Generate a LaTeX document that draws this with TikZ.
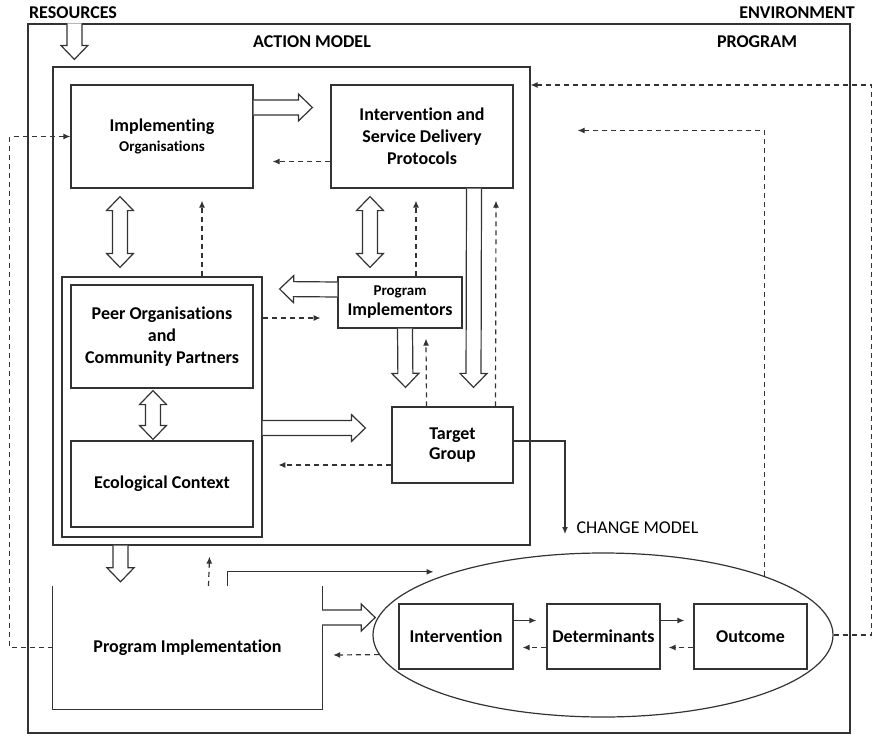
\documentclass[tikz,border=0pt]{standalone}
\usepackage{fontspec}
\setmainfont{Carlito}[Ligatures=NoCommon]
\usetikzlibrary{positioning,arrows.meta,calc,shapes.geometric}
\definecolor{linecol}{HTML}{333333}
\tikzset{
  box/.style 2 args={draw=linecol, line width=1.2pt, minimum width=#1, minimum height=#2,
    inner sep=1pt, align=center},
  harrow/.style={draw=linecol, line width=1.2pt, fill=white, line join=miter,
    to path={($(\tikztostart)!7.5pt!90:(\tikztotarget)$)
      -- ($(\tikztotarget)!14pt!(\tikztostart)!7.5pt!90:(\tikztotarget)$)
      -- ($(\tikztotarget)!14pt!(\tikztostart)!13.5pt!90:(\tikztotarget)$)
      -- (\tikztotarget)
      -- ($(\tikztotarget)!14pt!(\tikztostart)!13.5pt!-90:(\tikztotarget)$)
      -- ($(\tikztotarget)!14pt!(\tikztostart)!7.5pt!-90:(\tikztotarget)$)
      -- ($(\tikztostart)!7.5pt!-90:(\tikztotarget)$)}},
  dharrow/.style={draw=linecol, line width=1.2pt, fill=white, line join=miter,
    to path={(\tikztostart)
      -- ($(\tikztostart)!14pt!(\tikztotarget)!13.5pt!90:(\tikztotarget)$)
      -- ($(\tikztostart)!14pt!(\tikztotarget)!7.5pt!90:(\tikztotarget)$)
      -- ($(\tikztotarget)!14pt!(\tikztostart)!7.5pt!90:(\tikztotarget)$)
      -- ($(\tikztotarget)!14pt!(\tikztostart)!13.5pt!90:(\tikztotarget)$)
      -- (\tikztotarget)
      -- ($(\tikztotarget)!14pt!(\tikztostart)!13.5pt!-90:(\tikztotarget)$)
      -- ($(\tikztotarget)!14pt!(\tikztostart)!7.5pt!-90:(\tikztotarget)$)
      -- ($(\tikztostart)!14pt!(\tikztotarget)!7.5pt!-90:(\tikztotarget)$)
      -- ($(\tikztostart)!14pt!(\tikztotarget)!13.5pt!-90:(\tikztotarget)$)
      -- cycle}}}

\begin{document}
\begin{tikzpicture}[x=1pt, y=-1pt, font=\fontsize{18}{22}\selectfont\bfseries,
    flow/.style={-{Latex[length=7pt, width=6pt]}, line width=1.2pt, draw=linecol},
    feedback/.style={-{Latex[length=7pt, width=6pt]}, line width=1.2pt, draw=linecol,
      dash pattern=on 5pt off 4pt}]
  \useasboundingbox (0,0) rectangle (873,736);
  \node[box={822pt}{709pt}] (env) at (439,378.5) {};
  \node[box={477pt}{478pt}] (action) at (291.5,306) {};
  \node (res) at (73,13) {RESOURCES};
  \node (envlbl) at (797,13) {ENVIRONMENT};
  \node (amlbl) at (312,42) {ACTION MODEL};
  \node (prglbl) at (757,42) {PROGRAM};
  \node[box={182pt}{103pt}] (impl) at (162,136.5) {Implementing\\[-2pt] {\fontsize{15}{18}\selectfont Organisations}};
  \node[box={182pt}{103pt}] (intv) at (422,136.5) {Intervention and\\ Service Delivery\\ Protocols};
  \node[box={200pt}{260pt}] (pcbox) at (162,407) {};
  \node[box={182pt}{103pt}] (peer) at (162,336.5) {Peer Organisations\\ and\\ Community Partners};
  \node[box={182pt}{86pt}] (eco) at (162,484) {Ecological Context};
  \node[box={124pt}{51pt}] (progimp) at (400,302.5) {{\fontsize{15}{18}\selectfont Program}\\[-2pt] Implementors};
  \node[box={121pt}{76pt}] (target) at (452.5,445) {Target\\[-2pt] Group};
  \node[anchor=west, font=\fontsize{18}{22}\selectfont] (chg) at (573,528) {CHANGE MODEL};
  \node[minimum width=269pt, minimum height=123pt, inner sep=0pt] (pimpl) at (187.5,647.5) {Program Implementation};
  \draw[linecol, line width=1.2pt] (pimpl.north west) |- (pimpl.south east) -- (pimpl.north east);
  \node[draw=linecol, ellipse, line width=1.2pt, minimum width=460pt, minimum height=164pt,
    inner sep=0pt] (cm) at (603,635) {};
  \node[box={114pt}{65pt}] (cint) at (456,636.5) {Intervention};
  \node[box={113pt}{65pt}] (cdet) at (603.5,636.5) {Determinants};
  \node[box={113pt}{65pt}] (cout) at (750.5,636.5) {Outcome};
  \draw[harrow] ([xshift=47pt]env.north west) to ([xshift=22pt,yshift=7pt]action.north west);
  \draw[harrow] ([yshift=29pt]impl.east) to ([xshift=-18pt,yshift=29pt]intv.west);
  \draw[dharrow] ([xshift=-42pt,yshift=-8pt]impl.south) to ([xshift=-42pt,yshift=9pt]pcbox.north);
  \draw[dharrow] ([xshift=-52pt,yshift=-8pt]intv.south) to ([xshift=-30pt,yshift=9pt]progimp.north);
  \draw[dharrow] ([xshift=-9pt,yshift=-2pt]peer.south) to ([xshift=-9pt,yshift=1pt]eco.north);
  \draw[harrow] ([yshift=13pt]progimp.west) to ([xshift=17pt,yshift=118pt]pcbox.east);
  \draw[harrow] ([xshift=5pt]progimp.south) to ([xshift=-47pt,yshift=19pt]target.north);
  \draw[harrow] ([xshift=52pt]intv.south) to ([xshift=21pt,yshift=19pt]target.north);
  \draw[harrow] ([yshift=-21pt]pcbox.east) to ([xshift=-26pt,yshift=17pt]target.west);
  \draw[harrow] ([xshift=-171pt]action.south) to ([xshift=-67pt,yshift=4pt]pimpl.north);
  \draw[harrow] ([yshift=30pt]pimpl.east) to ([xshift=53pt,yshift=30pt]pimpl.east);
  \draw[feedback] ([yshift=-25pt]intv.west) -- ([xshift=19pt,yshift=-25pt]impl.east);
  \draw[feedback] (pimpl.west) -- ++(-43,0) |- (impl.west);
  \draw[feedback] ([xshift=40pt]pcbox.north) -- ([xshift=40pt,yshift=-12pt]impl.south);
  \draw[feedback] ([xshift=16pt]progimp.north) -- ([xshift=-6pt,yshift=-12pt]intv.south);
  \draw[feedback] ([yshift=89pt]pcbox.east) -- ++(58,0);
  \draw[feedback] ([xshift=-26pt]target.north) -- ([xshift=26pt,yshift=-10pt]progimp.south);
  \draw[feedback] ([xshift=43pt]target.north) -- ([xshift=74pt,yshift=-12pt]intv.south);
  \draw[feedback] ([yshift=-20pt]target.west) -- ++(-113,0);
  \draw[feedback] ([xshift=21pt]pimpl.north) -- ([xshift=-82pt,yshift=-11pt]action.south);
  \draw[feedback] (cm.185) -- ([xshift=11pt,yshift=-7.5pt]pimpl.east);
  \draw[feedback] ([yshift=-11pt]cdet.west) -- ([xshift=9pt,yshift=-11pt]cint.east);
  \draw[feedback] ([yshift=-11pt]cout.west) -- ([xshift=8pt,yshift=-11pt]cdet.east);
  \draw[feedback] (cm.east) -- ++(38,0) |- ([yshift=221pt]action.east);
  \draw[feedback] (cm.20) |- ([xshift=64pt,yshift=6pt]intv.east);
  \draw[flow] ([yshift=16pt]cint.east) -- ([xshift=-10pt,yshift=16pt]cdet.west);
  \draw[flow] ([yshift=16pt]cdet.east) -- ([xshift=-9pt,yshift=16pt]cout.west);
  \draw[flow] ([yshift=4pt]target.east) -| ([xshift=-8pt,yshift=-6pt]chg.west);
  \draw[flow] ([xshift=40pt]pimpl.north) -- ++(0,-14) -- ++(206,0);
\end{tikzpicture}
\end{document}
